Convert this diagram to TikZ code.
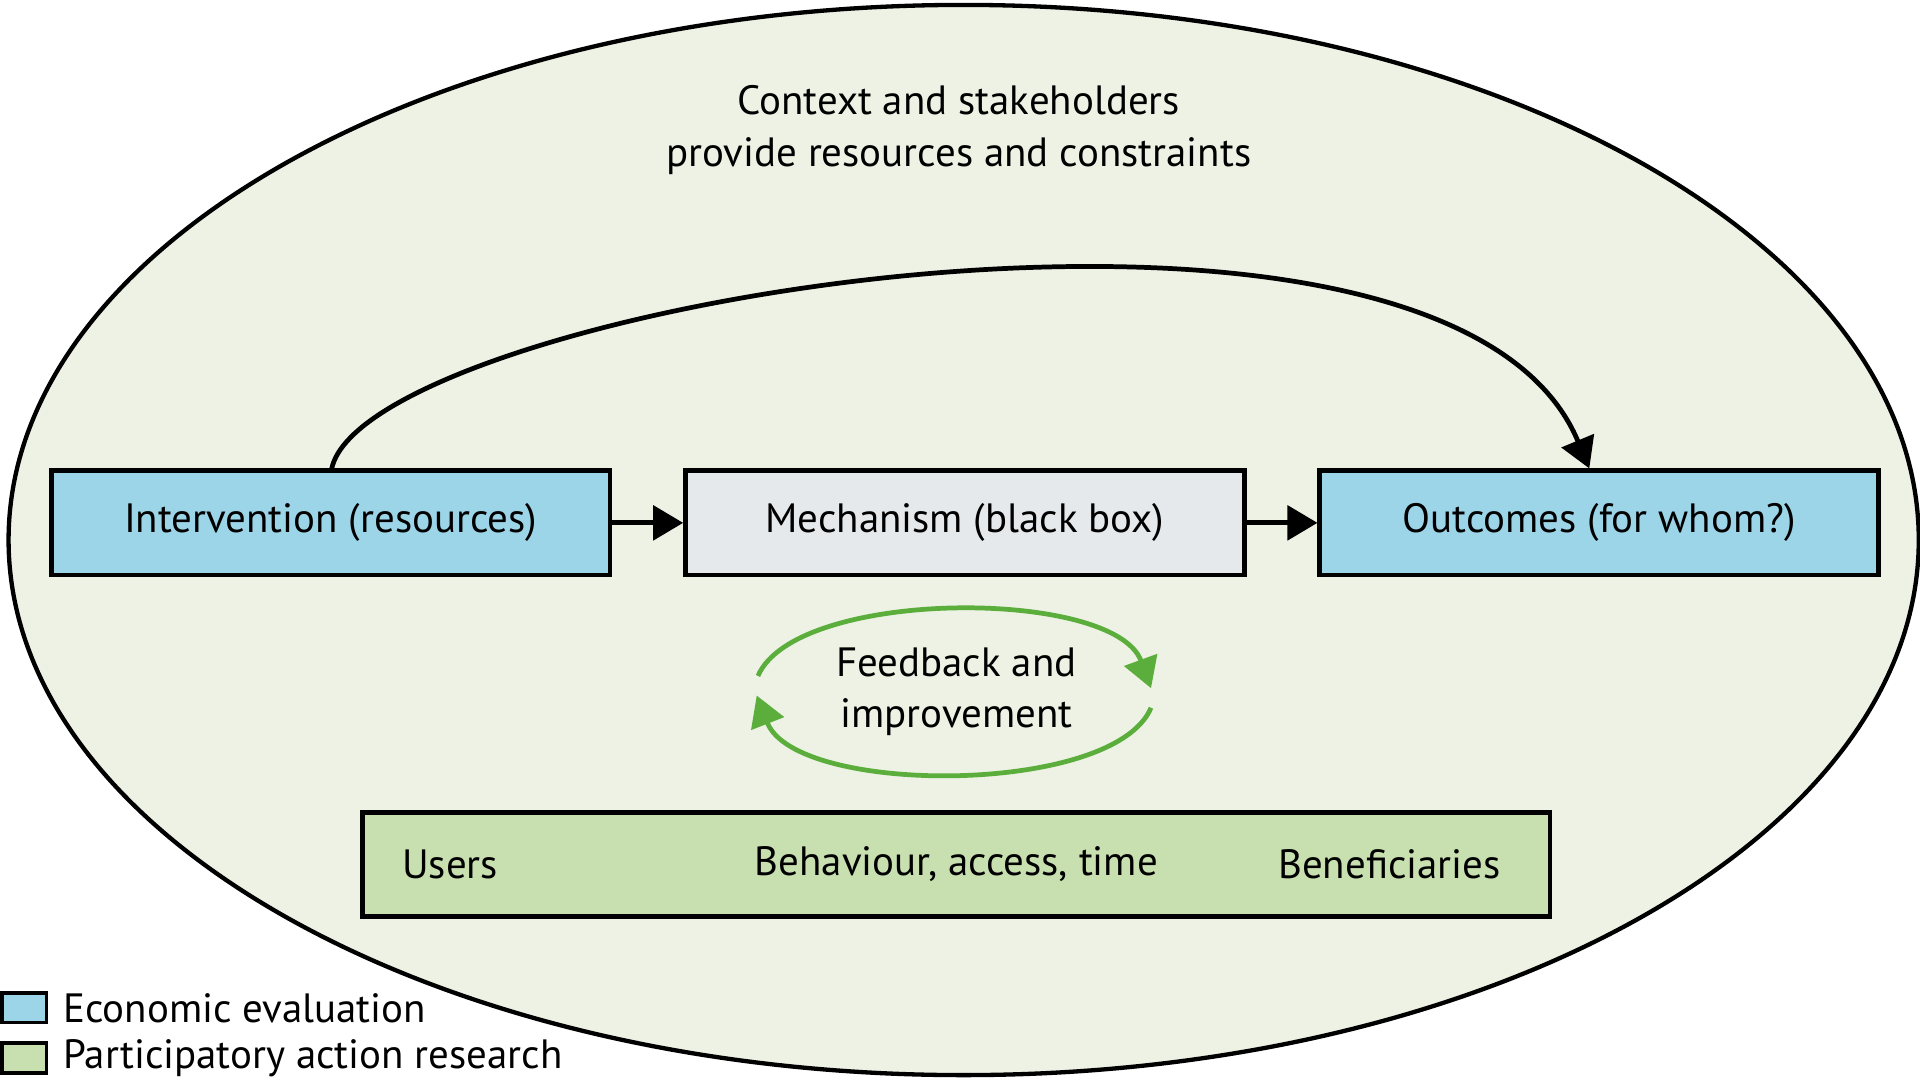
\documentclass[tikz,border=0pt]{standalone}
\usepackage{fontspec}
\setmainfont{PT Sans}
\usetikzlibrary{arrows.meta,positioning,calc}
\definecolor{econblue}{HTML}{9DD5E8}
\definecolor{mechgrey}{HTML}{E6E9EC}
\definecolor{pargreen}{HTML}{C8DFB0}
\definecolor{ctxfill}{HTML}{EDF2E4}
\definecolor{loopgreen}{HTML}{5BAE3C}

\begin{document}
\begin{tikzpicture}[
    x=0.01cm, y=-0.01cm,
    font=\fontsize{9.5}{12}\selectfont,
    econ/.style={rectangle, draw, fill=econblue, line width=1.1pt, minimum width=4.56cm, minimum height=0.85cm},
    mech/.style={rectangle, draw, fill=mechgrey, line width=1.1pt, minimum width=4.56cm, minimum height=0.85cm},
    part/.style={rectangle, draw, fill=pargreen, line width=1.1pt, minimum width=9.69cm, minimum height=0.85cm},
    key/.style={rectangle, draw, line width=0.9pt, minimum width=0.36cm, minimum height=0.24cm},
    flow/.style={line width=1.1pt, -{Triangle[length=7pt,width=8pt]}},
    loop/.style={loopgreen, line width=1.1pt, -{Triangle[length=7pt,width=8pt]}}
]
\useasboundingbox (0,0) rectangle (1568,884);

% Context
\draw[fill=ctxfill, line width=1pt] (787,441) ellipse [x radius=780, y radius=437];
\node[align=center] (context) at (783,106) {Context and stakeholders\\provide resources and constraints};

% Main chain
\node[econ] (interv) at (270,427) {Intervention (resources)};
\node[mech] (mech) at (788,427) {Mechanism (black box)};
\node[econ] (outc) at (1306,427) {Outcomes (for whom?)};

\draw[flow] (interv) -- (mech);
\draw[flow] (mech) -- (outc);
\draw[flow] ($(interv.north west)+(231,0)$)
    .. controls (300,250) and (1180,100) .. ($(outc.north west)+(222,0)$);

% Feedback loop
\node[align=center] (feedback) at (781,565) {Feedback and\\improvement};
\draw[loop] (619,552) .. controls (650,480) and (910,480) .. (940,562);
\draw[loop] (940,578) .. controls (910,650) and (650,650) .. (618,568);

% Users bar
\node[part] (users) at (781,706) {};
\node[anchor=west] (usr) at (316,706) {Users};
\node (behav) at (781,706) {Behaviour, access, time};
\node[anchor=east] (benef) at (1238,706) {Beneficiaries};

% Legend
\node[key, fill=econblue] (keyecon) at (20,823) {};
\node[anchor=west, inner sep=0pt] at (51,823) {Economic evaluation};
\node[key, fill=pargreen] (keypart) at (20,864) {};
\node[anchor=west, inner sep=0pt] at (51,864) {Participatory action research};
\end{tikzpicture}
\end{document}
